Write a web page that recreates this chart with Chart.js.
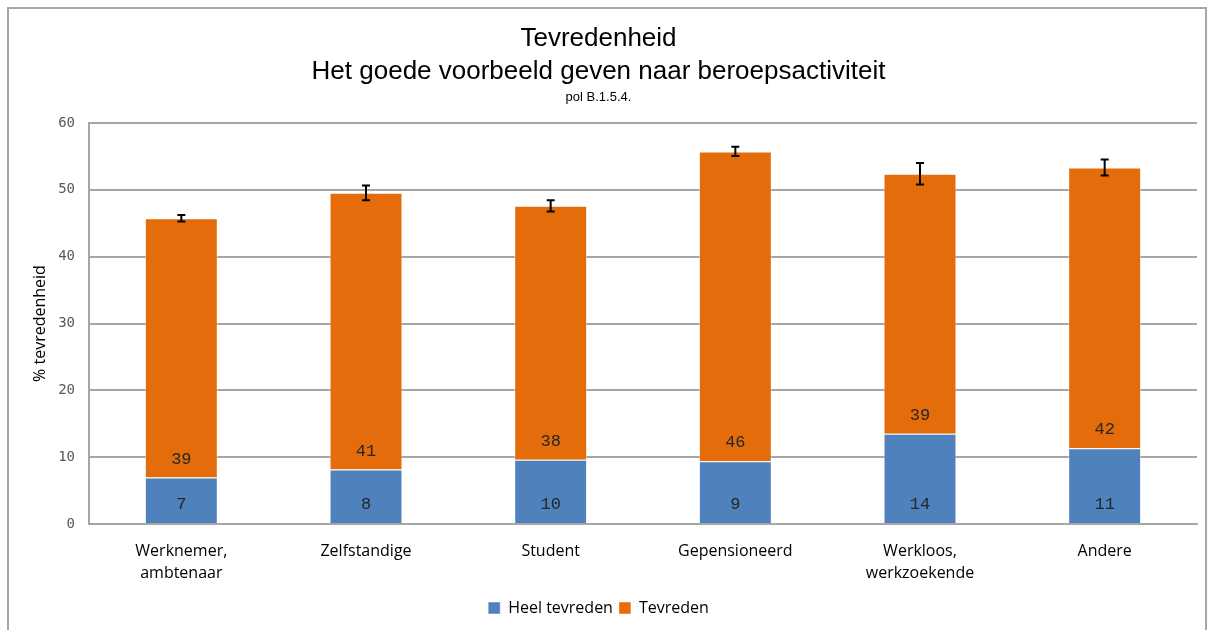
<!DOCTYPE html>
<html>
<head>
<meta charset="utf-8">
<script src="https://cdn.jsdelivr.net/npm/chart.js@4.4.1/dist/chart.umd.min.js"></script>
<style>
  body { margin: 0; background: #fff; }
  #wrap { position: relative; width: 1212px; height: 630px; }
  #kader {
    position: absolute; left: 7px; top: 7px; width: 1196px; height: 640px;
    border: 2px solid #a6a6a6; border-bottom: none; pointer-events: none;
  }
</style>
</head>
<body>
<div id="wrap">
  <canvas id="grafiek"></canvas>
  <div id="kader"></div>
</div>
<script>
// categorieën en reeksen
const categorieen = [
  ["Werknemer,", "ambtenaar"],
  "Zelfstandige",
  "Student",
  "Gepensioneerd",
  ["Werkloos,", "werkzoekende"],
  "Andere"
];
const heelTevreden = [6.95, 8.15, 9.6, 9.4, 13.5, 11.35];
const tevreden = [38.8, 41.4, 38.0, 46.35, 38.9, 42.0];
// foutmarge op het totaal (heel tevreden + tevreden)
const foutmarge = [0.5, 1.1, 0.85, 0.7, 1.6, 1.2];
const yTicks = [0, 10, 20, 30, 40, 50, 60];

const BLAUW = "#4f81bd";
const ORANJE = "#e46c0a";

// getallen onderaan in elk segment
const labelsPlugin = {
  id: "segmentLabels",
  afterDatasetsDraw(chart) {
    const ctx = chart.ctx;
    ctx.save();
    ctx.font = "17px 'Liberation Mono'";
    ctx.fillStyle = "#262626";
    ctx.textAlign = "center";
    ctx.textBaseline = "middle";
    chart.data.datasets.forEach((ds, d) => {
      const meta = chart.getDatasetMeta(d);
      meta.data.forEach((bar, i) => {
        ctx.fillText(Math.round(ds.data[i]), bar.x, bar.base - 18.5);
      });
    });
    ctx.restore();
  }
};

// foutbalken op de top van de gestapelde balk
const foutPlugin = {
  id: "foutbalken",
  afterDatasetsDraw(chart) {
    const ctx = chart.ctx;
    const y = chart.scales.y;
    const meta = chart.getDatasetMeta(1);
    ctx.save();
    ctx.strokeStyle = "#000";
    ctx.lineWidth = 2;
    meta.data.forEach((bar, i) => {
      const totaal = heelTevreden[i] + tevreden[i];
      const boven = y.getPixelForValue(totaal + foutmarge[i]);
      const onder = y.getPixelForValue(totaal - foutmarge[i]);
      const x = bar.x;
      ctx.beginPath();
      ctx.moveTo(x, boven); ctx.lineTo(x, onder);
      ctx.moveTo(x - 4, boven); ctx.lineTo(x + 4, boven);
      ctx.moveTo(x - 4, onder); ctx.lineTo(x + 4, onder);
      ctx.stroke();
    });
    ctx.restore();
  }
};

new Chart(document.getElementById("grafiek"), {
  type: "bar",
  data: {
    labels: categorieen,
    datasets: [
      {
        label: "Heel tevreden",
        data: heelTevreden,
        backgroundColor: BLAUW,
        borderColor: "rgba(255,255,255,0.45)",
        borderWidth: 1,
        barPercentage: 0.395,
        categoryPercentage: 1
      },
      {
        label: "Tevreden",
        data: tevreden,
        backgroundColor: ORANJE,
        borderColor: "rgba(255,255,255,0.45)",
        borderWidth: 1,
        barPercentage: 0.395,
        categoryPercentage: 1
      }
    ]
  },
  options: {
    responsive: true,
    maintainAspectRatio: false,
    animation: false,
    layout: { padding: { top: 0, right: 15, bottom: 4, left: 0 } },
    scales: {
      x: {
        stacked: true,
        grid: { display: false, drawTicks: false },
        border: { display: true, color: "#a6a6a6", width: 2 },
        ticks: {
          color: "#000",
          padding: 16,
          maxRotation: 0,
          font: { family: "'Open Sans'", size: 16, lineHeight: 1.375 }
        },
        afterFit(scale) { scale.height = 70; }
      },
      y: {
        stacked: true,
        min: 0,
        max: 60,
        afterBuildTicks(scale) { scale.ticks = yTicks.map(v => ({ value: v })); },
        grid: { color: "#a6a6a6", lineWidth: 2, drawTicks: false },
        border: { display: true, color: "#a6a6a6", width: 2 },
        ticks: {
          color: "#595959",
          padding: 14,
          font: { family: "'DejaVu Sans Mono'", size: 14 }
        },
        title: {
          display: true,
          text: "% tevredenheid",
          color: "#000",
          padding: { top: 31, bottom: 0 },
          font: { family: "'Open Sans'", size: 16 }
        },
        afterFit(scale) { scale.width = 89; }
      }
    },
    plugins: {
      title: {
        display: true,
        text: ["Tevredenheid", "Het goede voorbeeld geven naar beroepsactiviteit"],
        color: "#000",
        padding: { top: 23, bottom: 0 },
        font: { family: "'Liberation Sans'", size: 26, weight: "normal", lineHeight: 1.25 }
      },
      subtitle: {
        display: true,
        text: "pol B.1.5.4.",
        color: "#000",
        padding: { top: 2, bottom: 17.4 },
        font: { family: "'Liberation Sans'", size: 13, lineHeight: 1.2 }
      },
      legend: {
        position: "bottom",
        labels: {
          color: "#000",
          boxWidth: 12,
          boxHeight: 12,
          padding: 6,
          font: { family: "'Open Sans'", size: 16 }
        }
      },
      tooltip: { enabled: false }
    }
  },
  plugins: [labelsPlugin, foutPlugin]
});
</script>
</body>
</html>
